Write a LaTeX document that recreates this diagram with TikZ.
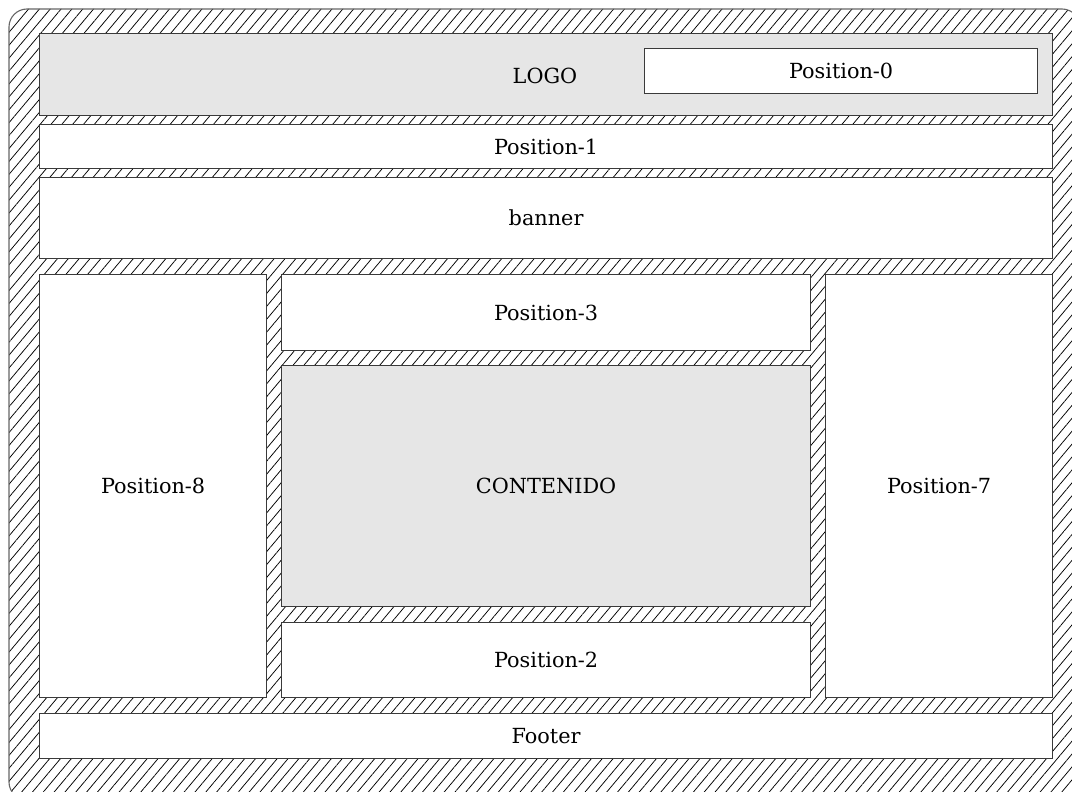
\documentclass[tikz,border=0pt]{standalone}
\usepackage{fontspec}
\setmainfont{DejaVu Serif}
\usetikzlibrary{patterns.meta}
\definecolor{boxgray}{HTML}{E6E6E6}
\definecolor{edge}{HTML}{3A3A3A}
\tikzset{
  labelfont/.style={font=\fontsize{20.8}{24}\selectfont},
  hatch/.style={pattern={Lines[angle=50,distance=8.3pt,line width=0.75pt]},pattern color=black},
  area/.style={draw=edge,line width=1.2pt,fill=white,inner sep=0pt,anchor=north west,labelfont},
  grayarea/.style={area,fill=boxgray},
}
\begin{document}
\begin{tikzpicture}[x=1pt,y=-1pt]
\useasboundingbox (0,0) rectangle (1072,792);
\clip (0,0) rectangle (1072,792);
\path[hatch,rounded corners=18pt] (9,9) rectangle (1080,800);
\draw[draw=black!60,line width=1.1pt,rounded corners=18pt] (9,9) rectangle (1080,800);
\node[grayarea,minimum width=1013pt,minimum height=82pt] (logo) at (39,33) {};
\node[labelfont] (logotext) at (545,76) {LOGO};
\node[area,minimum width=393pt,minimum height=45pt] (p0) at (644,48) {Position-0};
\node[area,minimum width=1013pt,minimum height=44pt] (p1) at (39,124) {Position-1};
\node[area,minimum width=1013pt,minimum height=81pt] (banner) at (39,177) {banner};
\node[area,minimum width=227pt,minimum height=423pt] (p8) at (39,274) {Position-8};
\node[area,minimum width=529pt,minimum height=76pt] (p3) at (281,274) {Position-3};
\node[grayarea,minimum width=529pt,minimum height=241pt] (cont) at (281,365) {CONTENIDO};
\node[area,minimum width=529pt,minimum height=75pt] (p2) at (281,622) {Position-2};
\node[area,minimum width=227pt,minimum height=423pt] (p7) at (825,274) {Position-7};
\node[area,minimum width=1013pt,minimum height=45pt] (footer) at (39,713) {Footer};
\end{tikzpicture}
\end{document}
